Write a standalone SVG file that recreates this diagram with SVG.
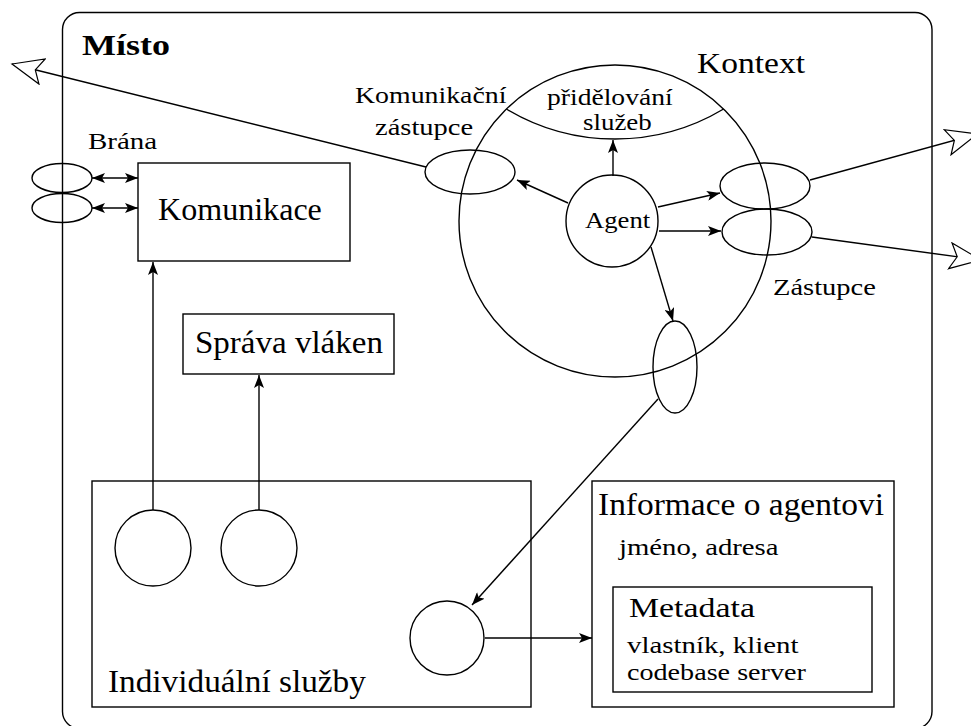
<svg xmlns="http://www.w3.org/2000/svg" width="971" height="726" viewBox="0 0 971 726" font-family="Liberation Serif, serif">
<style>
.s{fill:none;stroke:#000;stroke-width:1.4}
.w{fill:#fff;stroke:#000;stroke-width:1.4}
text{fill:#000}
.c{stroke:#000;stroke-width:1.4;fill:none}
.f{marker-end:url(#ah)}
.o{marker-end:url(#oh)}
.d{marker-start:url(#ahs);marker-end:url(#ah)}
</style>
<defs>
<marker id="ah" viewBox="0 0 13 10" refX="13" refY="5" markerWidth="13" markerHeight="10" markerUnits="userSpaceOnUse" orient="auto">
<path d="M0,0 L13,5 L0,10 L3,5 Z" fill="#000"/>
</marker>
<marker id="ahs" viewBox="0 0 13 10" refX="13" refY="5" markerWidth="13" markerHeight="10" markerUnits="userSpaceOnUse" orient="auto-start-reverse">
<path d="M0,0 L13,5 L0,10 L3,5 Z" fill="#000"/>
</marker>
<marker id="oh" viewBox="-1 -1 34 28" refX="31" refY="13" markerWidth="34" markerHeight="28" markerUnits="userSpaceOnUse" orient="auto">
<path d="M31,13 L0,0 L7,13 L0,26 Z" fill="#fff" stroke="#000" stroke-width="1.2" stroke-linejoin="miter"/>
</marker>
</defs>

<g id="misto">
<rect class="s" x="62.5" y="12.5" width="869.5" height="716" rx="17"/>
<text transform="translate(82,55) scale(1.2,1)" font-size="30" font-weight="bold">Místo</text>
</g>

<g id="kontext">
<circle class="s" cx="615" cy="221" r="156"/>
<text transform="translate(697,73) scale(1.117,1)" font-size="30">Kontext</text>
</g>

<g id="prideleni">
<path class="s" d="M506.4,109 A211.6,211.6 0 0 0 723.6,109"/>
<text transform="translate(547,105) scale(1.2,1)" font-size="23">přidělování</text>
<text transform="translate(583,130) scale(1.17,1)" font-size="23">služeb</text>
</g>

<g id="agent">
<circle class="w" cx="612" cy="221" r="46"/>
<text transform="translate(585,228) scale(1.16,1)" font-size="23">Agent</text>
</g>

<g id="kom-zastupce">
<ellipse class="s" cx="470" cy="172" rx="45" ry="22"/>
<text transform="translate(355,103) scale(1.21,1)" font-size="23">Komunikační</text>
<text transform="translate(375,135) scale(1.24,1)" font-size="23">zástupce</text>
</g>

<g id="zastupce">
<ellipse class="s" cx="765" cy="186" rx="45" ry="23"/>
<ellipse class="s" cx="767" cy="232" rx="45" ry="23"/>
<text transform="translate(773,295) scale(1.24,1)" font-size="23">Zástupce</text>
</g>

<g id="port">
<ellipse class="s" cx="675" cy="367" rx="22" ry="46"/>
</g>

<g id="brana">
<ellipse class="s" cx="62" cy="178" rx="30" ry="14.5"/>
<ellipse class="s" cx="62" cy="208" rx="30" ry="14.5"/>
<text transform="translate(88,149) scale(1.26,1)" font-size="23">Brána</text>
</g>

<g id="komunikace">
<rect class="s" x="138" y="163" width="212" height="98"/>
<text transform="translate(158,220) scale(1.035,1)" font-size="31">Komunikace</text>
</g>

<g id="sprava">
<rect class="s" x="183" y="314" width="211" height="60"/>
<text transform="translate(195,353) scale(1.065,1)" font-size="31">Správa vláken</text>
</g>

<g id="sluzby">
<rect class="s" x="92" y="481" width="439" height="226"/>
<circle class="s" cx="153" cy="548" r="38"/>
<circle class="s" cx="259" cy="548" r="38"/>
<circle class="s" cx="447" cy="638" r="37"/>
<text transform="translate(108,692) scale(1.074,1)" font-size="31">Individuální služby</text>
</g>

<g id="informace">
<rect class="s" x="592" y="481" width="302" height="226"/>
<text transform="translate(598,515) scale(1.079,1)" font-size="31">Informace o agentovi</text>
<text transform="translate(619,555) scale(1.25,1)" font-size="23">jméno, adresa</text>
</g>

<g id="metadata">
<rect class="s" x="613" y="587" width="259" height="105"/>
<text transform="translate(629,617) scale(1.254,1)" font-size="27">Metadata</text>
<text transform="translate(627,653) scale(1.255,1)" font-size="23">vlastník, klient</text>
<text transform="translate(627,680) scale(1.224,1)" font-size="23">codebase server</text>
</g>

<g id="connectors">
<line class="c o" x1="426" y1="167" x2="12" y2="64"/>
<line class="c o" x1="810" y1="180" x2="977.5" y2="134"/>
<line class="c o" x1="812" y1="237" x2="981" y2="260"/>
<line class="c f" x1="613" y1="176" x2="613" y2="140"/>
<line class="c f" x1="568" y1="203" x2="517" y2="180"/>
<line class="c f" x1="658" y1="207" x2="720" y2="193"/>
<line class="c f" x1="659" y1="231" x2="721" y2="231"/>
<line class="c f" x1="651" y1="247" x2="673" y2="321"/>
<line class="c f" x1="658" y1="399" x2="472" y2="605"/>
<line class="c f" x1="485" y1="638" x2="592" y2="638"/>
<line class="c f" x1="153" y1="510" x2="153" y2="262"/>
<line class="c f" x1="259" y1="510" x2="259" y2="375"/>
<line class="c d" x1="92" y1="178" x2="138" y2="178"/>
<line class="c d" x1="92" y1="208" x2="138" y2="208"/>
</g>
</svg>
